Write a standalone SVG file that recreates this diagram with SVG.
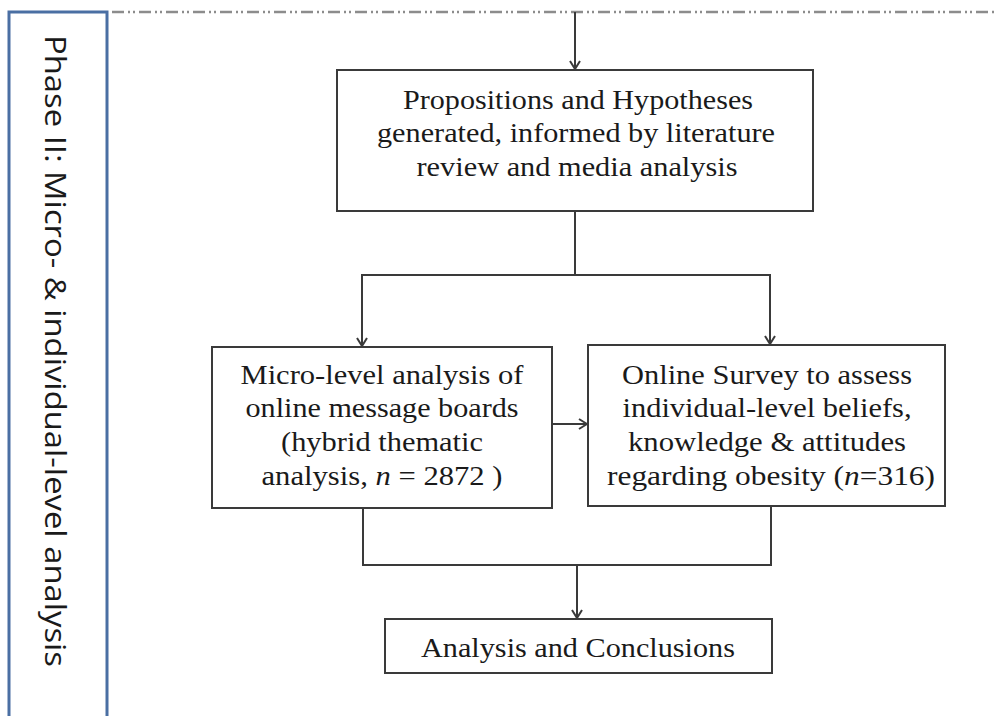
<svg xmlns="http://www.w3.org/2000/svg" width="996" height="716" viewBox="0 0 996 716">
  <style>
    .box { fill: #ffffff; stroke: #3a3a3a; stroke-width: 2; }
    .conn { fill: none; stroke: #3a3a3a; stroke-width: 2; }
    .lbl { font-family: "Liberation Serif", "Times New Roman", serif; font-size: 28px; fill: #1a1a1a; text-anchor: middle; }
    .side { font-family: "Open Sans", "Liberation Sans", sans-serif; font-size: 30px; fill: #1a1a1a; }
  </style>
  <defs>
    <marker id="open-arrow" viewBox="0 0 10 12" markerWidth="10" markerHeight="12" refX="9" refY="6" orient="auto" markerUnits="userSpaceOnUse">
      <path d="M1,1 L9,6 L1,11" fill="none" stroke="#3a3a3a" stroke-width="2"/>
    </marker>
  </defs>

  <rect width="996" height="716" fill="#ffffff"/>

  <!-- phase band on the left -->
  <g id="phase-band">
    <rect x="9" y="12" width="98" height="720" fill="#ffffff" stroke="#4a6fa3" stroke-width="3"/>
    <text class="side" transform="translate(45,35) rotate(90)" textLength="632" lengthAdjust="spacingAndGlyphs">Phase II: Micro- &amp; individual-level analysis</text>
  </g>

  <!-- phase separator -->
  <line x1="112" y1="12" x2="996" y2="12" stroke="#8c8c8c" stroke-width="2.5" stroke-dasharray="12 4 2 3 2 4"/>

  <g id="connectors">
    <line class="conn" x1="575" y1="12" x2="575" y2="69" marker-end="url(#open-arrow)"/>
    <polyline class="conn" points="575,211 575,275 362,275 362,346" marker-end="url(#open-arrow)"/>
    <polyline class="conn" points="575,275 770,275 770,344" marker-end="url(#open-arrow)"/>
    <line class="conn" x1="552" y1="424" x2="587" y2="424" marker-end="url(#open-arrow)"/>
    <polyline class="conn" points="363,508 363,565 771,565 771,506"/>
    <line class="conn" x1="577" y1="565" x2="577" y2="618" marker-end="url(#open-arrow)"/>
  </g>

  <g id="propositions">
    <rect class="box" x="337" y="70" width="476" height="141"/>
    <text class="lbl" x="578" y="109" textLength="350" lengthAdjust="spacingAndGlyphs">Propositions and Hypotheses</text>
    <text class="lbl" x="576" y="142" textLength="398" lengthAdjust="spacingAndGlyphs">generated, informed by literature</text>
    <text class="lbl" x="577" y="176" textLength="321" lengthAdjust="spacingAndGlyphs">review and media analysis</text>
  </g>

  <g id="micro-analysis">
    <rect class="box" x="212" y="347" width="340" height="161"/>
    <text class="lbl" x="382" y="384" textLength="283" lengthAdjust="spacingAndGlyphs">Micro-level analysis of</text>
    <text class="lbl" x="382" y="417" textLength="273" lengthAdjust="spacingAndGlyphs">online message boards</text>
    <text class="lbl" x="382" y="451" textLength="202" lengthAdjust="spacingAndGlyphs">(hybrid thematic</text>
    <text class="lbl" x="382" y="485" textLength="241" lengthAdjust="spacingAndGlyphs">analysis, <tspan font-style="italic">n</tspan> = 2872 )</text>
  </g>

  <g id="online-survey">
    <rect class="box" x="588" y="345" width="357" height="161"/>
    <text class="lbl" x="767" y="384" textLength="290" lengthAdjust="spacingAndGlyphs">Online Survey to assess</text>
    <text class="lbl" x="767" y="417" textLength="289" lengthAdjust="spacingAndGlyphs">individual-level beliefs,</text>
    <text class="lbl" x="767" y="451" textLength="278" lengthAdjust="spacingAndGlyphs">knowledge &amp; attitudes</text>
    <text class="lbl" x="771" y="485" textLength="328" lengthAdjust="spacingAndGlyphs">regarding obesity (<tspan font-style="italic">n</tspan>=316)</text>
  </g>

  <g id="conclusions">
    <rect class="box" x="385" y="619" width="387" height="54"/>
    <text class="lbl" x="578" y="657" textLength="314" lengthAdjust="spacingAndGlyphs">Analysis and Conclusions</text>
  </g>
</svg>
